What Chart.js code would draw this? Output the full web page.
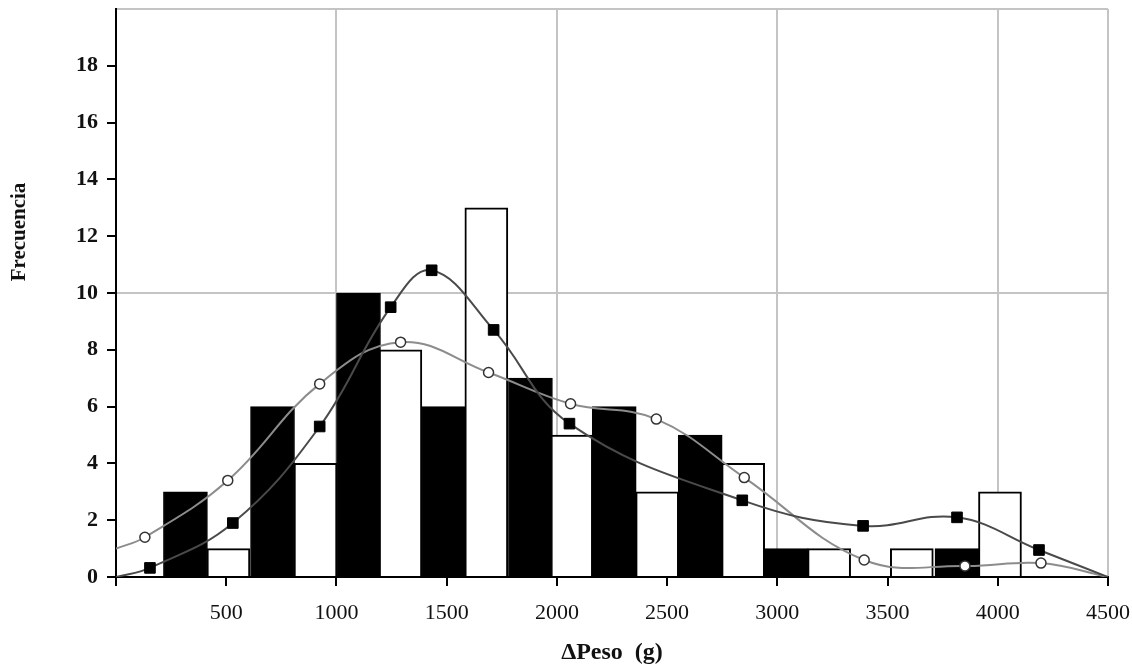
<!DOCTYPE html>
<html>
<head>
<meta charset="utf-8">
<script src="https://cdn.jsdelivr.net/npm/chart.js@4"></script>
<style>
  body { margin: 0; background: #fff; }
</style>
</head>
<body>
<canvas id="histChart" width="1132" height="671"></canvas>
<script>
// histogram bars (bin centre in g, frequency)
const blackBinX = [315, 710, 1100, 1485, 1880, 2260, 2650, 3040, 3815];
const blackFreq = [3, 6, 10, 6, 7, 6, 5, 1, 1];
const whiteBinX = [510, 905, 1290, 1680, 2065, 2455, 2845, 3235, 3610, 4010];
const whiteFreq = [1, 4, 8, 13, 5, 3, 4, 1, 1, 3];

// smoothed curves (first / last point are the curve ends, no marker)
const squareX = [0, 154, 530, 924, 1246, 1432, 1713, 2057, 2841, 3389, 3815, 4187, 4500];
const squareY = [0, 0.32, 1.9, 5.3, 9.5, 10.8, 8.7, 5.4, 2.7, 1.8, 2.1, 0.95, 0];
const circleX = [0, 131, 507, 924, 1291, 1690, 2062, 2451, 2850, 3394, 3851, 4196, 4500];
const circleY = [1.0, 1.4, 3.4, 6.8, 8.27, 7.2, 6.1, 5.56, 3.5, 0.6, 0.39, 0.49, 0];

const yTicks = [0, 2, 4, 6, 8, 10, 12, 14, 16, 18];
const xTicks = [500, 1000, 1500, 2000, 2500, 3000, 3500, 4000, 4500];

const toPoints = (xs, ys) => xs.map((x, i) => ({ x: x, y: ys[i] }));
const endsHidden = (r) => (ctx) => (ctx.dataIndex === 0 || ctx.dataIndex === ctx.dataset.data.length - 1) ? 0 : r;

const gridGray = '#c4c4c4';
const serif = "'Liberation Serif', 'Times New Roman', serif";

const yTitlePlugin = {
    id: 'yTitle',
    afterDraw(chart) {
        const ctx = chart.ctx;
        ctx.save();
        ctx.translate(20, 232);
        ctx.rotate(-Math.PI / 2);
        ctx.font = 'bold 21px ' + serif;
        ctx.fillStyle = '#111';
        ctx.textAlign = 'center';
        ctx.textBaseline = 'middle';
        ctx.fillText('Frecuencia', 0, 0);
        ctx.restore();
    }
};

const ctx = document.getElementById('histChart').getContext('2d');
new Chart(ctx, {
    type: 'bar',
    data: {
        datasets: [
            {
                type: 'line',
                data: toPoints(squareX, squareY),
                borderColor: '#4a4a4a',
                borderWidth: 2,
                tension: 0.4,
                pointStyle: 'rect',
                pointRadius: endsHidden(7.5),
                pointBackgroundColor: '#000',
                pointBorderColor: '#000',
                pointBorderWidth: 1,
                order: 0
            },
            {
                type: 'line',
                data: toPoints(circleX, circleY),
                borderColor: '#8c8c8c',
                borderWidth: 2,
                tension: 0.4,
                pointStyle: 'circle',
                pointRadius: endsHidden(5),
                pointBackgroundColor: '#fff',
                pointBorderColor: '#333',
                pointBorderWidth: 1.5,
                order: 1
            },
            {
                data: toPoints(blackBinX, blackFreq),
                backgroundColor: '#000',
                borderColor: '#000',
                borderWidth: 1,
                barThickness: 44,
                grouped: false,
                order: 2
            },
            {
                data: toPoints(whiteBinX, whiteFreq),
                backgroundColor: '#fff',
                borderColor: '#000',
                borderWidth: 2,
                barThickness: 43,
                grouped: false,
                order: 3
            }
        ]
    },
    options: {
        responsive: false,
        animation: false,
        events: [],
        layout: { padding: { top: 9, right: 24, left: 0, bottom: 0 } },
        plugins: {
            legend: { display: false },
            tooltip: { enabled: false }
        },
        scales: {
            x: {
                type: 'linear',
                min: 0,
                max: 4500,
                offset: false,
                afterFit: (scale) => {
                    scale.height = 94;
                    scale.paddingLeft = 0;
                    scale.paddingRight = 0;
                },
                afterBuildTicks: (scale) => {
                    scale.ticks = [{ value: 0 }].concat(xTicks.map(v => ({ value: v })));
                },
                ticks: {
                    autoSkip: false,
                    maxRotation: 0,
                    padding: 14,
                    color: '#111',
                    font: { family: serif, size: 22 },
                    callback: (v) => v === 0 ? '' : String(v)
                },
                grid: {
                    offset: false,
                    color: (c) => (c.tick && c.tick.value % 1000 === 0 && c.tick.value > 0) || (c.tick && c.tick.value === 4500) ? gridGray : 'rgba(0,0,0,0)',
                    lineWidth: 2,
                    tickColor: '#000',
                    tickLength: 9
                },
                border: { color: '#000', width: 2 },
                title: {
                    display: true,
                    text: 'ΔPeso  (g)',
                    color: '#111',
                    font: { family: serif, size: 24, weight: 'bold' },
                    padding: { top: 0, bottom: 4 }
                }
            },
            y: {
                min: 0,
                max: 20,
                afterFit: (scale) => {
                    scale.width = 116;
                    scale.paddingTop = 0;
                    scale.paddingBottom = 0;
                },
                afterBuildTicks: (scale) => {
                    scale.ticks = yTicks.map(v => ({ value: v })).concat([{ value: 20 }]);
                },
                ticks: {
                    autoSkip: false,
                    padding: 9,
                    color: '#111',
                    font: { family: serif, size: 22, weight: 'bold' },
                    callback: (v) => v === 20 ? '' : String(v)
                },
                grid: {
                    color: (c) => c.tick && (c.tick.value === 10 || c.tick.value === 20) ? gridGray : 'rgba(0,0,0,0)',
                    lineWidth: 2,
                    tickColor: (c) => c.tick && c.tick.value === 20 ? 'rgba(0,0,0,0)' : '#000',
                    tickLength: 9
                },
                border: { color: '#000', width: 2 }
            }
        }
    },
    plugins: [yTitlePlugin]
});
</script>
</body>
</html>
